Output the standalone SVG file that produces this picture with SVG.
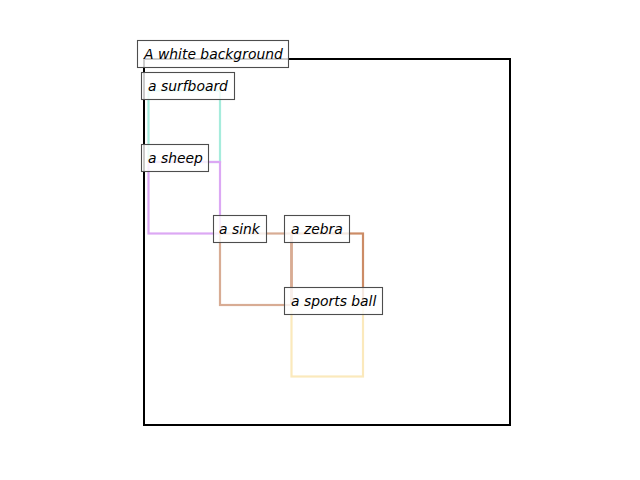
<svg xmlns="http://www.w3.org/2000/svg" width="640" height="480" viewBox="0 0 640 480">
<style>
.box{fill:none;stroke-width:2.2}
.lbl rect{fill:#ffffff;fill-opacity:0.8;stroke:#4d4d4d;stroke-width:1.1}
.lbl text{font-family:"DejaVu Sans",sans-serif;font-style:oblique;font-size:13.9px;fill:#000}
</style>
<rect width="640" height="480" fill="#ffffff"/>
<g id="frame"><rect x="144" y="59" width="366" height="366" fill="none" stroke="#000" stroke-width="2"/></g>
<g id="connectors"></g>
<g id="surfboard-box"><rect class="box" x="148.5" y="90.5" width="71.5" height="71.5" stroke="#a6ecdc"/></g>
<g id="sheep-box"><rect class="box" x="148.5" y="162" width="71.5" height="71.5" stroke="#dca8f4"/></g>
<g id="zebra-box"><rect class="box" x="291.5" y="233.5" width="71.5" height="71.5" stroke="#cc8c66"/></g>
<g id="sink-box"><rect class="box" x="220" y="233.5" width="71.5" height="71.5" stroke="#d8ac94"/></g>
<g id="sportsball-box"><rect class="box" x="291.5" y="305" width="71.5" height="71.5" stroke="#fbe9bc"/></g>
<g id="label-background" class="lbl"><rect x="137.5" y="40.5" width="151" height="27"/><text x="144" y="59">A white background</text></g>
<g id="label-surfboard" class="lbl"><rect x="141.5" y="72.5" width="93" height="27"/><text x="148" y="91">a surfboard</text></g>
<g id="label-sheep" class="lbl"><rect x="141.5" y="144.5" width="67" height="27"/><text x="148" y="163">a sheep</text></g>
<g id="label-sink" class="lbl"><rect x="213.5" y="215.5" width="53" height="27"/><text x="219" y="234">a sink</text></g>
<g id="label-zebra" class="lbl"><rect x="284.5" y="215.5" width="65" height="27"/><text x="291" y="234">a zebra</text></g>
<g id="label-sportsball" class="lbl"><rect x="284.5" y="287.5" width="98" height="27"/><text x="291" y="306">a sports ball</text></g>
</svg>
